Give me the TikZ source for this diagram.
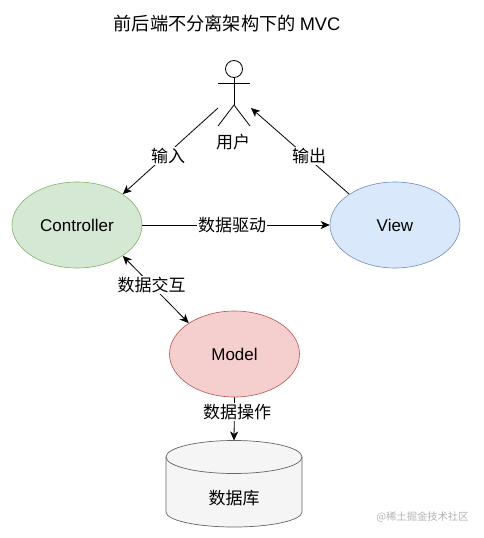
\documentclass[tikz,border=0pt]{standalone}
\usepackage{xcolor}
\usepackage{fontspec}
\setmainfont{Liberation Sans}
\newfontfamily\cjk{Noto Sans CJK SC}
\usepackage{tikz}
\usetikzlibrary{shapes.geometric,arrows.meta}
\definecolor{ctrlfill}{HTML}{D5E8D4}
\definecolor{ctrldraw}{HTML}{82B366}
\definecolor{viewfill}{HTML}{DAE8FC}
\definecolor{viewdraw}{HTML}{6C8EBF}
\definecolor{modelfill}{HTML}{F5CFCD}
\definecolor{modeldraw}{HTML}{B85450}
\definecolor{dbfill}{HTML}{F5F5F5}
\definecolor{dbdraw}{HTML}{666666}
\tikzset{
  mvcnode/.style={
    shape = ellipse,
    draw,
    line width = 0.6pt,
    inner sep = 0pt,
    minimum width = 130pt,
    minimum height = 86pt,
    font = \fontsize{17}{18}\selectfont
  },
  flow/.style={
    line width = 0.8pt,
    -{Stealth[length=9pt,width=8pt,inset=2.5pt]}
  },
  flowboth/.style={
    line width = 0.8pt,
    {Stealth[length=9pt,width=8pt,inset=2.5pt]}-{Stealth[length=9pt,width=8pt,inset=2.5pt]}
  },
  flowlabel/.style={
    fill = white,
    inner sep = 1pt,
    font = \fontsize{17}{18}\selectfont\cjk
  },
  actor/.pic={
    \draw[line width=0.8pt] (0,-36) circle (8.5);
    \draw[line width=0.8pt] (-16,-22) -- (16,-22);
    \draw[line width=0.8pt] (0,-27.5) -- (0,0);
    \draw[line width=0.8pt] (-16,21) -- (0,0) -- (16,21);
  }
}
\begin{document}
\begin{tikzpicture}[x=1pt,y=-1pt]
  \useasboundingbox (0,0) rectangle (483,538);
  \node (title) at (227,24) {\fontsize{18.2}{20}\selectfont\cjk 前后端不分离架构下的 \rmfamily MVC};
  % user
  \pic at (234,105) {actor};
  \node[flowlabel] (user) at (233,142) {用户};
  \coordinate (userin) at (218,108);
  \coordinate (userout) at (251,108);
  % mvc
  \node[mvcnode, fill=ctrlfill, draw=ctrldraw] (controller) at (77,225) {Controller};
  \node[mvcnode, fill=viewfill, draw=viewdraw] (view) at (395,225) {View};
  \node[mvcnode, fill=modelfill, draw=modeldraw] (model) at (234.5,354) {Model};
  % database
  \fill[dbfill] (166,457) arc[start angle=180, end angle=360, x radius=68, y radius=16.5]
    -- (302,512) arc[start angle=0, end angle=180, x radius=68, y radius=15] -- cycle;
  \draw[dbdraw, line width=0.7pt] (166,457) arc[start angle=180, end angle=540, x radius=68, y radius=16.5];
  \draw[dbdraw, line width=0.7pt] (166,457) -- (166,512) arc[start angle=180, end angle=0, x radius=68, y radius=15] -- (302,457);
  \coordinate (dbtop) at (234,440.5);
  \node[font=\fontsize{17}{18}\selectfont\cjk] (db) at (234,498) {数据库};
  % connectors
  \draw[flow] (userin) -- (controller.34);
  \draw[flow] (view.146) -- (userout);
  \draw[flow] (controller.east) -- (view.west);
  \draw[flowboth] (controller.-34) -- (model.146);
  \draw[flow] (model.south) -- (dbtop);
  \node[flowlabel] (input) at (168,156) {输入};
  \node[flowlabel] (output) at (309,156) {输出};
  \node[flowlabel] (drive) at (232,225) {数据驱动};
  \node[flowlabel] (exchange) at (151.5,285) {数据交互};
  \node[flowlabel] (operate) at (237,412) {数据操作};
  \node[font=\fontsize{10.3}{12}\selectfont\cjk, text=black!30] (mark) at (422.5,517) {@稀土掘金技术社区};
\end{tikzpicture}
\end{document}
